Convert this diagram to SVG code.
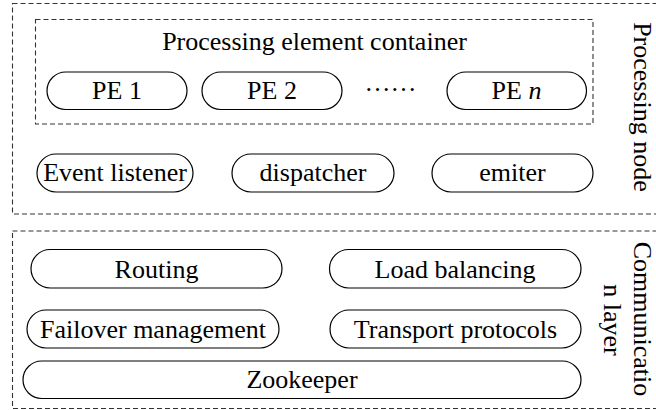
<svg xmlns="http://www.w3.org/2000/svg" width="656" height="410" viewBox="0 0 656 410">
  <style>
    text { font-family: "Liberation Serif", "Times New Roman", serif; font-size: 26px; fill: #000; text-anchor: middle; }
    .frame { fill: none; stroke: #333; stroke-width: 1.1; stroke-dasharray: 5 3; }
    .pill { fill: #fff; stroke: #000; stroke-width: 1.2; }
  </style>
  <rect width="656" height="410" fill="#fff"/>

  <!-- Processing node layer -->
  <g id="processing-node">
    <rect class="frame" x="12.5" y="3.5" width="650" height="210.5"/>
    <text transform="translate(634,107) rotate(90)">Processing node</text>
  </g>

  <g id="pe-container">
    <rect class="frame" x="35.5" y="19.5" width="557.5" height="104.5"/>
    <text x="314.5" y="49.5">Processing element container</text>
  </g>

  <g id="pe-1">
    <rect class="pill" x="47" y="72" width="140" height="37.5" rx="18.75"/>
    <text x="117" y="99">PE 1</text>
  </g>
  <g id="pe-2">
    <rect class="pill" x="202" y="72" width="140" height="37.5" rx="18.75"/>
    <text x="272" y="99">PE 2</text>
  </g>
  <g id="pe-ellipsis">
    <text x="390.5" y="90.5">……</text>
  </g>
  <g id="pe-n">
    <rect class="pill" x="447" y="72" width="139.5" height="37.5" rx="18.75"/>
    <text x="516.5" y="99">PE <tspan font-style="italic">n</tspan></text>
  </g>

  <g id="event-listener">
    <rect class="pill" x="37" y="154" width="156" height="38" rx="19"/>
    <text x="115" y="181">Event listener</text>
  </g>
  <g id="dispatcher">
    <rect class="pill" x="232" y="154" width="162" height="38" rx="19"/>
    <text x="313" y="181">dispatcher</text>
  </g>
  <g id="emiter">
    <rect class="pill" x="432" y="154" width="161" height="38" rx="19"/>
    <text x="512.5" y="181">emiter</text>
  </g>

  <!-- Communication layer -->
  <g id="communication-layer">
    <rect class="frame" x="12.5" y="231" width="650" height="177.5"/>
    <text transform="translate(634,319) rotate(90)">Communicatio</text>
    <text transform="translate(604,320) rotate(90)">n layer</text>
  </g>

  <g id="routing">
    <rect class="pill" x="31" y="249.5" width="251" height="38.5" rx="19.25"/>
    <text x="156.5" y="277.5">Routing</text>
  </g>
  <g id="load-balancing">
    <rect class="pill" x="329.5" y="249.5" width="251.5" height="38.5" rx="19.25"/>
    <text x="455" y="277.5">Load balancing</text>
  </g>
  <g id="failover-management">
    <rect class="pill" x="27" y="310" width="252" height="38" rx="19"/>
    <text x="153" y="338">Failover management</text>
  </g>
  <g id="transport-protocols">
    <rect class="pill" x="330" y="310" width="251" height="38" rx="19"/>
    <text x="455.5" y="338">Transport protocols</text>
  </g>
  <g id="zookeeper">
    <rect class="pill" x="23" y="361" width="558" height="37.5" rx="18.75"/>
    <text x="302" y="388">Zookeeper</text>
  </g>

  <g id="connectors"/>
</svg>
